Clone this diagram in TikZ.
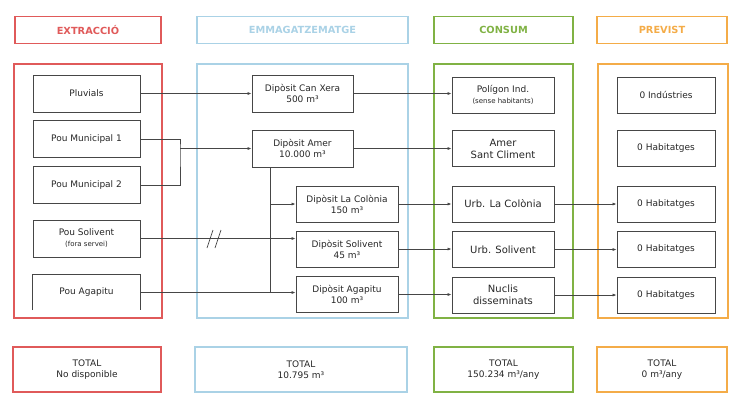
\documentclass[tikz,border=0pt]{standalone}
\usepackage{fontspec}
\setmainfont{DejaVu Sans}
\usetikzlibrary{arrows.meta}
\definecolor{cred}{RGB}{224,90,90}
\definecolor{cblue}{RGB}{170,210,230}
\definecolor{cgreen}{RGB}{128,178,68}
\definecolor{corange}{RGB}{244,172,72}
\definecolor{cline}{RGB}{70,70,70}
\newcommand{\petit}{\fontsize{7}{8}\selectfont}
\begin{document}
\begin{tikzpicture}[x=1pt,y=-1pt,font=\fontsize{9}{11}\selectfont,text=black!85,
  head/.style={draw=#1,line width=1.3pt,text=#1,font=\fontsize{9.8}{11}\selectfont\bfseries,minimum height=27pt},
  panel/.style={draw=#1,line width=1.3pt,minimum height=254pt},
  total/.style={draw=#1,line width=1.3pt,minimum height=45pt,align=center},
  box/.style={draw=cline,line width=0.8pt,minimum height=36pt,align=center},
  flow/.style={draw=cline,line width=0.7pt,-{Latex[length=4pt,width=3pt]}},
  wire/.style={draw=cline,line width=0.7pt}]
 \useasboundingbox (0,0) rectangle (735,394);
 % headers
 \node[head=cred,minimum width=146pt] (hext) at (88,30) {EXTRACCIÓ};
 \node[head=cblue,minimum width=211pt] (hemm) at (302.5,30) {EMMAGATZEMATGE};
 \node[head=cgreen,minimum width=139pt] (hcon) at (503.5,30) {CONSUM};
 \node[head=corange,minimum width=130pt] (hpre) at (662,30) {PREVIST};
 % panels
 \node[panel=cred,minimum width=148pt] (pext) at (88,191) {};
 \node[panel=cblue,minimum width=211pt] (pemm) at (302.5,191) {};
 \node[panel=cgreen,minimum width=139pt] (pcon) at (503.5,191) {};
 \node[panel=corange,minimum width=130pt] (ppre) at (663,191) {};
 % extraccio
 \node[box,minimum width=107pt,minimum height=37pt] (pluv) at (86.5,93.5) {Pluvials};
 \node[box,minimum width=107pt,minimum height=37pt] (pm1) at (86.5,139) {Pou Municipal 1};
 \node[box,minimum width=107pt,minimum height=37pt] (pm2) at (86.5,185) {Pou Municipal 2};
 \node[box,minimum width=107pt,minimum height=37pt] (psol) at (86.5,238.5) {Pou Solivent\\{\petit(fora servei)}};
 \node[minimum width=107pt,minimum height=35pt] (pagap) at (86.5,292.5) {Pou Agapitu};
 \draw[wire,line width=0.8pt] (pagap.south west) -- (pagap.north west) -- (pagap.north east) -- (pagap.south east);
 % emmagatzematge
 \node[box,minimum width=101pt,minimum height=37pt] (dxera) at (302.5,93.5) {Dipòsit Can Xera\\500 m³};
 \node[box,minimum width=101pt,minimum height=37pt] (damer) at (302.5,148.5) {Dipòsit Amer\\10.000 m³};
 \node[box,minimum width=102pt] (dcol) at (347,204) {Dipòsit La Colònia\\150 m³};
 \node[box,minimum width=102pt] (dsol) at (347,249) {Dipòsit Solivent\\45 m³};
 \node[box,minimum width=102pt] (dagap) at (347,294.5) {Dipòsit Agapitu\\100 m³};
 % consum
 \node[box,minimum width=102pt] (cpol) at (503,95) {Polígon Ind.\\{\petit(sense habitants)}};
 \node[box,minimum width=102pt,font=\fontsize{10}{12}\selectfont] (camer) at (503,148.5) {Amer\\Sant Climent};
 \node[box,minimum width=102pt,font=\fontsize{10}{12}\selectfont] (ccol) at (503,204) {Urb. La Colònia};
 \node[box,minimum width=102pt,font=\fontsize{10}{12}\selectfont] (csol) at (503,249.5) {Urb. Solivent};
 \node[box,minimum width=102pt,font=\fontsize{10}{12}\selectfont] (cnuc) at (503,295) {Nuclis\\disseminats};
 % previst
 \node[box,minimum width=98pt] (pind) at (666,95) {0 Indústries};
 \node[box,minimum width=98pt] (phab1) at (666,148.5) {0 Habitatges};
 \node[box,minimum width=98pt] (phab2) at (666,204) {0 Habitatges};
 \node[box,minimum width=98pt] (phab3) at (666,249.5) {0 Habitatges};
 \node[box,minimum width=98pt] (phab4) at (666,295) {0 Habitatges};
 % totals
 \node[total=cred,minimum width=148pt] (text) at (87,369.5) {TOTAL\\No disponible};
 \node[total=cblue,minimum width=212pt] (temm) at (301,369.5) {TOTAL\\10.795 m³};
 \node[total=cgreen,minimum width=139pt] (tcon) at (503.5,369.5) {TOTAL\\150.234 m³/any};
 \node[total=corange,minimum width=130pt] (tpre) at (662,369.5) {TOTAL\\0 m³/any};
 % connexions
 \coordinate (brk) at (180,148.5);
 \coordinate (vx) at (270,0);
 \draw[flow] (pluv.east) -- (pluv.east -| dxera.west);
 \draw[wire] (pm1.east) -| (brk) |- (pm2.east);
 \draw[flow] (brk) -- (damer.west);
 \draw[flow] (psol.east) -- (psol.east -| dsol.west);
 \draw[wire] (207,248) -- (213,230) (215,248) -- (221,230);
 \draw[flow] (pagap.east) -- (pagap.east -| dagap.west);
 \draw[wire] (damer.south -| vx) -- (pagap.east -| vx);
 \draw[flow] (dcol.west -| vx) -- (dcol.west);
 \draw[flow] (dxera.east) -- (dxera.east -| cpol.west);
 \draw[flow] (damer.east) -- (camer.west);
 \draw[flow] (dcol.east) -- (ccol.west);
 \draw[flow] (dsol.east) -- (dsol.east -| csol.west);
 \draw[flow] (dagap.east) -- (dagap.east -| cnuc.west);
 \draw[flow] (ccol.east) -- (phab2.west);
 \draw[flow] (csol.east) -- (phab3.west);
 \draw[flow] (cnuc.east) -- (phab4.west);
\end{tikzpicture}
\end{document}
